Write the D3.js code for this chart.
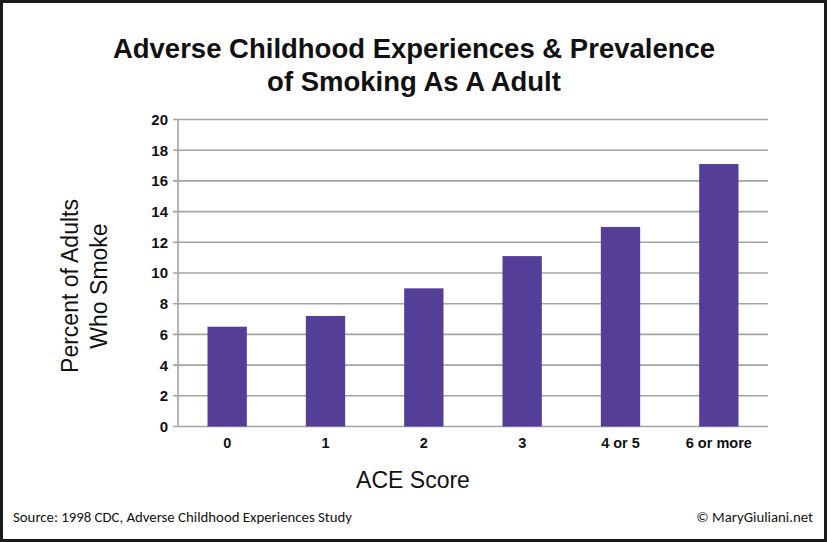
<!DOCTYPE html>
<html><head><meta charset="utf-8">
<script src="https://cdn.jsdelivr.net/npm/d3@7"></script>
<style>html,body{margin:0;padding:0;background:#fff;}svg{display:block;}</style>
</head><body>
<svg id="chart" width="827" height="542"></svg>
<script>
const categories = ["0", "1", "2", "3", "4 or 5", "6 or more"];
const values = [6.5, 7.2, 9.0, 11.1, 13.0, 17.1];
const yTicks = [0, 2, 4, 6, 8, 10, 12, 14, 16, 18, 20];
const titleLines = ["Adverse Childhood Experiences & Prevalence", "of Smoking As A Adult"];
const yTitleLines = ["Percent of Adults", "Who Smoke"];

const W = 827, H = 542;
const svg = d3.select("#chart");
const m = {left: 178, right: 768, top: 119.5, bottom: 426.5};

svg.append("rect").attr("x", 1.5).attr("y", 1.5).attr("width", W - 3).attr("height", H - 3)
  .attr("fill", "#fff").attr("stroke", "#1a1a1a").attr("stroke-width", 3);

const x = d3.scaleBand().domain(categories).range([m.left, m.right]).paddingInner(0.6).paddingOuter(0.3);
const y = d3.scaleLinear().domain([0, 20]).range([m.bottom, m.top]);

// gridlines
svg.append("g").selectAll("line").data(yTicks).join("line")
  .attr("x1", m.left - 5).attr("x2", m.right)
  .attr("y1", d => y(d)).attr("y2", d => y(d))
  .attr("stroke", "#a3a3a3").attr("stroke-width", 1.6);

// y axis line
svg.append("line").attr("x1", m.left).attr("x2", m.left).attr("y1", y(20)).attr("y2", y(0))
  .attr("stroke", "#a3a3a3").attr("stroke-width", 1.6);

// bars
svg.append("g").selectAll("rect").data(values).join("rect")
  .attr("x", (d, i) => x(categories[i]))
  .attr("width", x.bandwidth())
  .attr("y", d => y(d))
  .attr("height", d => y(0) - y(d))
  .attr("fill", "#553e97");

// y tick labels
svg.append("g").selectAll("text").data(yTicks).join("text")
  .attr("x", m.left - 10).attr("y", d => y(d)).attr("dy", "0.36em")
  .attr("text-anchor", "end")
  .style("font-family", "'Liberation Sans', Arial, sans-serif")
  .style("font-weight", "bold").style("font-size", "15px").attr("fill", "#111")
  .text(d => d);

// x tick labels
svg.append("g").selectAll("text").data(categories).join("text")
  .attr("x", d => x(d) + x.bandwidth() / 2).attr("y", 448)
  .attr("text-anchor", "middle")
  .style("font-family", "'Liberation Sans', Arial, sans-serif")
  .style("font-weight", "bold").style("font-size", "14.5px").attr("fill", "#111")
  .text(d => d);

// x axis title
svg.append("text").attr("x", 413).attr("y", 488).attr("text-anchor", "middle")
  .style("font-family", "'Liberation Sans', Arial, sans-serif")
  .style("font-size", "23px").attr("fill", "#111").text("ACE Score");

// y axis title
const yt = svg.append("text").attr("transform", "translate(0,286) rotate(-90)")
  .attr("text-anchor", "middle")
  .style("font-family", "'Liberation Sans', Arial, sans-serif")
  .style("font-size", "23px").attr("fill", "#111");
yTitleLines.forEach((t, i) => yt.append("tspan").attr("x", 0).attr("y", 78 + i * 29).text(t));

// title
const tt = svg.append("text").attr("text-anchor", "middle")
  .style("font-family", "'Liberation Sans', Arial, sans-serif")
  .style("font-weight", "bold").style("font-size", "27.5px").attr("fill", "#111");
titleLines.forEach((t, i) => tt.append("tspan").attr("x", 414).attr("y", 58 + i * 33).text(t));

// footer
svg.append("text").attr("x", 13).attr("y", 522)
  .style("font-family", "Carlito, Lato, 'Open Sans', sans-serif").style("font-size", "14.8px").attr("fill", "#111")
  .text("Source: 1998 CDC, Adverse Childhood Experiences Study");
svg.append("text").attr("x", 813).attr("y", 522).attr("text-anchor", "end")
  .style("font-family", "Carlito, Lato, 'Open Sans', sans-serif").style("font-size", "14.8px").attr("fill", "#111")
  .text("© MaryGiuliani.net");
</script>
</body></html>
